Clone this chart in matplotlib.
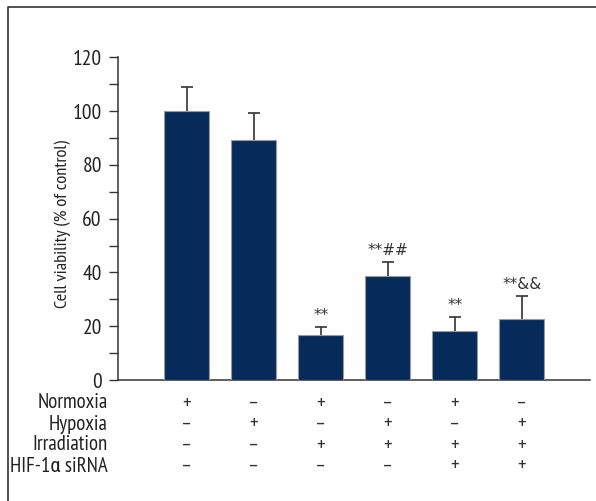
import numpy as np
import matplotlib
matplotlib.use('Agg')
import matplotlib.pyplot as plt
from matplotlib.lines import Line2D

plt.rcParams['font.family'] = ['PT Sans Narrow', 'Roboto Condensed', 'DejaVu Sans']

# Cell viability per treatment group (mean, SD)
groups    = ['G1', 'G2', 'G3', 'G4', 'G5', 'G6']
viability = [100.0, 89.3, 16.6, 38.6, 18.1, 22.8]
sd        = [8.8, 10.1, 3.2, 5.2, 5.2, 8.6]
marks     = ['', '', '**', '**##', '**', '**&&']

# treatment matrix shown under the bars
row_names = ['Normoxia', 'Hypoxia', 'Irradiation', 'HIF-1\u03b1 siRNA']
normoxia  = ['+', '\u2013', '+', '\u2013', '+', '\u2013']
hypoxia   = ['\u2013', '+', '\u2013', '+', '\u2013', '+']
irradiate = ['\u2013', '\u2013', '+', '+', '+', '+']
sirna     = ['\u2013', '\u2013', '\u2013', '\u2013', '+', '+']
rows      = [normoxia, hypoxia, irradiate, sirna]

W, H = 596, 501
fig = plt.figure(figsize=(W/100, H/100), dpi=100)
ax  = fig.add_axes([117.5/W, (H-380)/H, (590-117.5)/W, (380-57.3)/H])

x = np.arange(len(groups))
navy = '#062b5b'
ax.bar(x, viability, width=0.67, color=navy, edgecolor='#9a9a9a', linewidth=0.8, zorder=3)
eb = ax.errorbar(x, viability, yerr=[np.zeros(len(sd)), sd], fmt='none', ecolor='#333333',
                 elinewidth=1.2, capsize=4, capthick=1.2, zorder=2)
eb[1][0].set_visible(False)  # no cap on the lower side

# significance marks: DejaVu has larger, centred asterisks
for xi, v, s, m in zip(x, viability, sd, marks):
    if m:
        ax.annotate(m, (xi, v+s), xytext=(0, 7), textcoords='offset pixels',
                    ha='center', va='baseline', fontsize=11, color='#333333',
                    family=['DejaVu Sans'])

ax.set_xlim(-1.032, 6.015)
ax.set_ylim(0, 120)
ax.set_yticks(np.arange(0, 121, 20))
ax.set_yticks(np.arange(10, 120, 20), minor=True)
ax.set_xticks([])
ax.tick_params(axis='y', which='both', direction='out', length=6.8, width=1, color='#333333',
               labelsize=15.5, labelcolor='#222222', pad=4.5)
for side in ['top', 'right']:
    ax.spines[side].set_visible(False)
for side in ['left', 'bottom']:
    ax.spines[side].set_color('#333333')
    ax.spines[side].set_linewidth(1.1)

fig.text(62.7/W, (H-224)/H, 'Cell viability (% of control)', rotation=90,
         ha='center', va='center', fontsize=13.2, color='#222222')

# +/- table under the axis
for k, (name, row) in enumerate(zip(row_names, rows)):
    dy = -23 - 21*k
    ax.annotate(name, (0, 0), xycoords='axes fraction', xytext=(-10, dy),
                textcoords='offset pixels', ha='right', va='center', fontsize=15, color='#222222')
    for xi, s in zip(x, row):
        ax.annotate(s, (xi, 0), xytext=(0, dy), textcoords='offset pixels',
                    ha='center', va='center', fontsize=15, color='#333333')

# panel frame (left and top edges)
fig.add_artist(Line2D([8/W, 8/W, 1], [0, (H-7)/H, (H-7)/H], color='#333333', lw=1.2))

fig.savefig('out.png', dpi=100)
